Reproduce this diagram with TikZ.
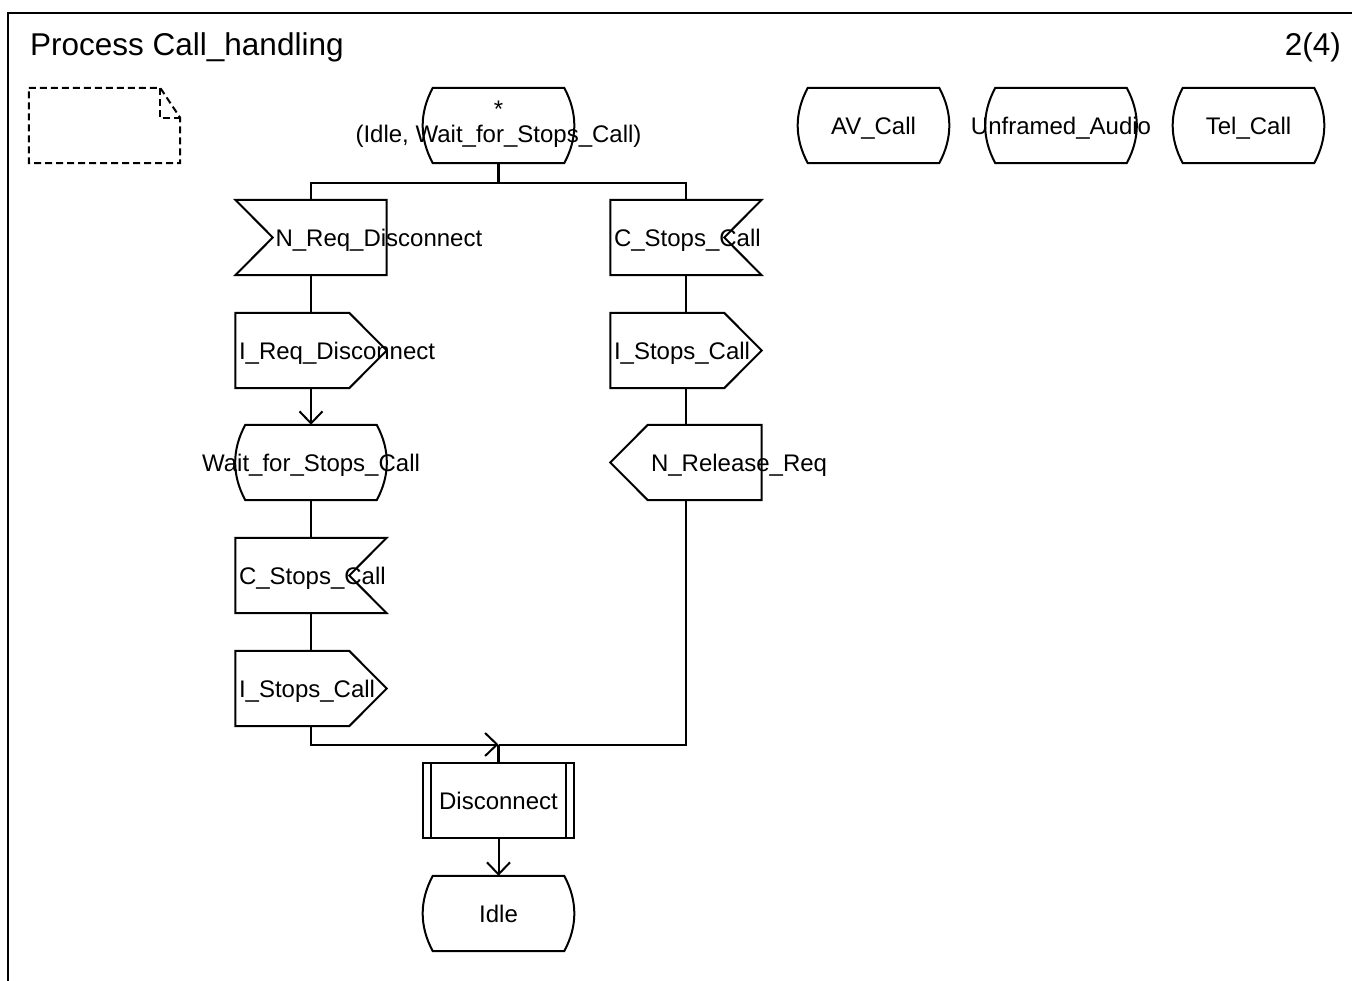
\documentclass[tikz,border=0pt]{standalone}
\usepackage{fontspec}
\setmainfont{Liberation Sans}
\usetikzlibrary{arrows.meta}
\hyphenpenalty=10000
\newcommand{\sdlfont}{\fontsize{24}{25}\selectfont}
\newcommand{\headfont}{\fontsize{31.5}{35}\selectfont}
\begin{document}
\begin{tikzpicture}[
    x=1pt, y=-1pt,
    line/.style={line width=2pt},
    flow/.style={line, -{Straight Barb[length=12pt, width=23pt]}},
    stem/.style={line width=3pt},
    sdl/.style={minimum width=151pt, minimum height=75pt, inner sep=0pt, font=\sdlfont, text height=17.2pt, text depth=0pt},
    midtext/.style={execute at begin node={\hbox to 0pt\bgroup\hss}, execute at end node={\hss\egroup}},
    lefttext/.style={execute at begin node={\hbox to 0pt\bgroup\hskip #1}, execute at end node={\hss\egroup}},
    state/.style={sdl, midtext, append after command={\pgfextra{
        \draw[line] ([xshift=10pt]\tikzlastnode.north west) -- ([xshift=-10pt]\tikzlastnode.north east)
            .. controls ([xshift=3.5pt, yshift=-25pt]\tikzlastnode.north east) and ([xshift=3.5pt, yshift=25pt]\tikzlastnode.south east)
            .. ([xshift=-10pt]\tikzlastnode.south east) -- ([xshift=10pt]\tikzlastnode.south west)
            .. controls ([xshift=-3.5pt, yshift=25pt]\tikzlastnode.south west) and ([xshift=-3.5pt, yshift=-25pt]\tikzlastnode.north west)
            .. ([xshift=10pt]\tikzlastnode.north west) -- cycle;}}},
    inleft/.style={sdl, lefttext=-35.5pt, append after command={\pgfextra{
        \draw[line] (\tikzlastnode.north west) -- (\tikzlastnode.north east) -- (\tikzlastnode.south east)
            -- (\tikzlastnode.south west) -- ([xshift=37.5pt]\tikzlastnode.west) -- cycle;}}},
    inright/.style={sdl, lefttext=-72pt, append after command={\pgfextra{
        \draw[line] (\tikzlastnode.north west) -- (\tikzlastnode.north east) -- ([xshift=-37.5pt]\tikzlastnode.east)
            -- (\tikzlastnode.south east) -- (\tikzlastnode.south west) -- cycle;}}},
    outright/.style={sdl, lefttext=-72pt, append after command={\pgfextra{
        \draw[line] (\tikzlastnode.north west) -- ([xshift=-37.5pt]\tikzlastnode.north east) -- (\tikzlastnode.east)
            -- ([xshift=-37.5pt]\tikzlastnode.south east) -- (\tikzlastnode.south west) -- cycle;}}},
    outleft/.style={sdl, lefttext=-35pt, append after command={\pgfextra{
        \draw[line] ([xshift=37.5pt]\tikzlastnode.north west) -- (\tikzlastnode.north east) -- (\tikzlastnode.south east)
            -- ([xshift=37.5pt]\tikzlastnode.south west) -- (\tikzlastnode.west) -- cycle;}}},
    proc/.style={sdl, midtext, append after command={\pgfextra{
        \draw[line] (\tikzlastnode.north west) rectangle (\tikzlastnode.south east);
        \draw[line] ([xshift=8pt]\tikzlastnode.north west) -- ([xshift=8pt]\tikzlastnode.south west);
        \draw[line] ([xshift=-8pt]\tikzlastnode.north east) -- ([xshift=-8pt]\tikzlastnode.south east);}}},
    note/.style={sdl, append after command={\pgfextra{
        \draw[line, dash pattern=on 7pt off 4pt] (\tikzlastnode.north west) -- ([xshift=-20pt]\tikzlastnode.north east)
            -- ([yshift=-30pt]\tikzlastnode.north east) -- (\tikzlastnode.south east) -- (\tikzlastnode.south west) -- cycle;
        \draw[line, dash pattern=on 7pt off 4pt] ([xshift=-20pt]\tikzlastnode.north east) -- ([xshift=-20pt, yshift=-30pt]\tikzlastnode.north east)
            -- ([yshift=-30pt]\tikzlastnode.north east);}}}
]
    \useasboundingbox (0,0) rectangle (1352,981);

    % Frame and heading
    \draw[line] (8,981) -- (8,13) -- (1352,13);
    \node[anchor=base west, font=\headfont, inner sep=0pt] (title) at (30,56) {Process Call\_handling};
    \node[anchor=base east, font=\headfont, inner sep=0pt] (page) at (1341,56) {2(4)};

    % Top row
    \node[note] (comment) at (104.5,125.5) {};
    \node[state, text height=, text depth=] (star) at (498.5,125.5) {\begin{tabular}{@{}c@{}}*\\(Idle, Wait\_for\_Stops\_Call)\end{tabular}};
    \node[state] (avcall) at (873.5,125.5) {AV\_Call};
    \node[state] (unframed) at (1061,125.5) {Unframed\_Audio};
    \node[state] (telcall) at (1248.5,125.5) {Tel\_Call};

    % Left branch
    \node[inleft] (nreq) at (311,237.5) {N\_Req\_Disconnect};
    \node[outright] (ireq) at (311,350.5) {I\_Req\_Disconnect};
    \node[state] (wait) at (311,462.5) {Wait\_for\_Stops\_Call};
    \node[inright] (cstopsb) at (311,575.5) {C\_Stops\_Call};
    \node[outright] (istopsb) at (311,688.5) {I\_Stops\_Call};

    % Right branch
    \node[inright] (cstopsa) at (686,237.5) {C\_Stops\_Call};
    \node[outright] (istopsa) at (686,350.5) {I\_Stops\_Call};
    \node[outleft] (nrel) at (686,462.5) {N\_Release\_Req};

    % Tail
    \node[proc] (disc) at (498.5,800.5) {Disconnect};
    \node[state] (idle) at (498.5,913.5) {Idle};

    \coordinate (fork) at (498.5,183);
    \coordinate (merge) at (498.5,744.5);

    % Connectors
    \draw[stem] (star) -- (fork);
    \draw[line] (nreq) |- (fork) -| (cstopsa);
    \draw[line] (nreq) -- (ireq);
    \draw[flow] (ireq) -- (wait);
    \draw[line] (wait) -- (cstopsb);
    \draw[line] (cstopsb) -- (istopsb);
    \draw[flow] (istopsb) |- (merge);
    \draw[line] (cstopsa) -- (istopsa);
    \draw[line] (istopsa) -- (nrel);
    \draw[line] (nrel) |- (merge);
    \draw[stem] (merge) -- (disc);
    \draw[flow] (disc) -- (idle);
\end{tikzpicture}
\end{document}
